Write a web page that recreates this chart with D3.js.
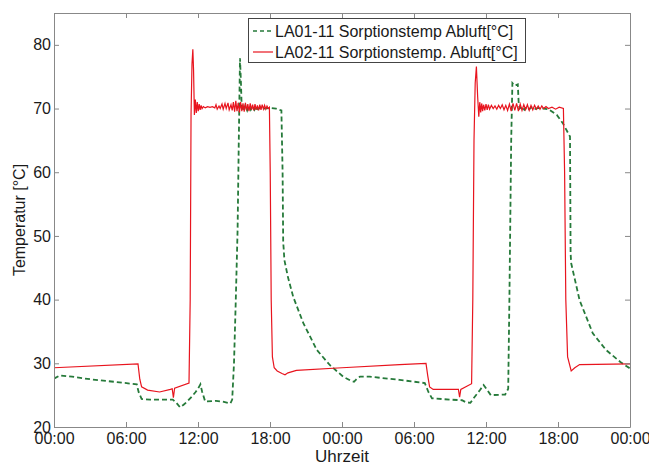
<!DOCTYPE html>
<html>
<head>
<meta charset="utf-8">
<script src="https://cdn.jsdelivr.net/npm/d3@7/dist/d3.min.js"></script>
<style>
  html, body { margin: 0; padding: 0; background: #fff; }
  svg { display: block; font-family: "Liberation Sans", Arial, sans-serif; }
</style>
</head>
<body>
<svg id="chart" width="649" height="466"></svg>
<script>
// ---- data (hours since start, temperature °C) ----
const xTickHours = [0, 6, 12, 18, 24, 30, 36, 42, 48];
const xTickLabels = ["00:00", "06:00", "12:00", "18:00", "00:00", "06:00", "12:00", "18:00", "00:00"];
const yTicks = [20, 30, 40, 50, 60, 70, 80];
const seriesNames = ["LA01-11 Sorptionstemp Abluft[°C]", "LA02-11 Sorptionstemp. Abluft[°C]"];

const la01 = [
  [0, 27.6], [0.5, 28.1], [1.5, 27.9], [3, 27.5], [5, 27.1], [6.9, 26.7], [7.05, 25.5], [7.3, 24.4],
  [8, 24.3], [9.9, 24.3], [10.2, 23.8], [10.5, 23.1], [10.8, 23.5], [11.05, 23.9], [11.5, 24.8],
  [11.8, 25.5], [12.0, 26.0], [12.2, 26.7], [12.35, 25.5], [12.6, 24.0], [13.5, 24.1], [14.0, 24.0],
  [14.7, 23.7], [14.85, 24.3], [15.0, 30], [15.15, 40], [15.3, 51], [15.4, 65], [15.5, 77.9],
  [15.58, 74], [15.64, 70.2], [15.8, 69.6], [15.95, 70.5], [16.1, 69.7], [16.25, 70.4], [16.4, 69.8],
  [16.55, 70.3], [16.7, 69.8], [16.85, 70.3], [17.0, 69.9], [17.2, 70.2], [17.5, 70.0], [18.0, 70.1],
  [18.5, 70.0], [18.95, 69.7], [19.05, 60], [19.1, 49], [19.14, 48], [19.2, 46.2], [19.5, 43.5],
  [19.94, 40.4], [20.78, 36.3], [21.9, 32.1], [23.0, 29.7], [24.1, 27.9], [24.8, 27.2], [25.0, 27.1],
  [25.3, 27.7], [25.5, 27.9], [26.3, 27.9], [28.8, 27.4], [30.9, 26.9], [31.2, 25.5], [31.5, 24.5],
  [33.0, 24.3], [34.0, 24.2], [34.3, 23.9], [34.7, 23.8], [35.0, 24.6], [35.5, 25.8], [35.8, 26.6],
  [36.1, 25.8], [36.4, 25.0], [37.6, 25.1], [37.85, 26], [37.95, 40], [38.1, 65], [38.2, 74.0],
  [38.4, 73.6], [38.65, 73.8], [38.72, 71], [38.8, 70.0], [39.0, 70.3], [39.2, 69.8], [39.4, 70.3],
  [39.6, 69.9], [39.8, 70.2], [40.0, 69.9], [40.4, 70.1], [40.8, 70.0], [41.2, 69.9], [41.9, 69.0],
  [42.4, 67.7], [43.0, 65.6], [43.03, 55], [43.05, 47.3], [43.1, 45.7], [43.8, 39.9], [44.9, 34.7],
  [46.0, 32.1], [47.2, 30.2], [48, 29.2]
];

const la02 = [
  [0, 29.3], [7.0, 29.9], [7.15, 27.5], [7.3, 26.3], [7.8, 25.8], [8.8, 25.5], [9.7, 25.9], [9.85, 26.0],
  [9.95, 24.6], [10.05, 26.1], [11.25, 26.9], [11.35, 40], [11.42, 69], [11.5, 77], [11.57, 79.3],
  [11.63, 76], [11.7, 69.0], [11.78, 71.4], [11.86, 69.3], [11.94, 71.0], [12.02, 69.6], [12.1, 70.7],
  [12.18, 69.8], [12.26, 70.5], [12.34, 70.0], [12.45, 70.3], [12.6, 70.1], [12.8, 70.3], [13.0, 70.2],
  [13.2, 70.3], [13.4, 70.1], [13.5, 70.6], [13.6, 69.9], [13.75, 70.4], [13.85, 70.0], [14.0, 70.7],
  [14.1, 69.9], [14.25, 70.8], [14.35, 70.0], [14.5, 70.9], [14.6, 69.8], [14.75, 70.6], [14.85, 69.7],
  [14.95, 71.0], [15.05, 69.5], [15.15, 71.2], [15.25, 69.6], [15.35, 70.9], [15.45, 69.4], [15.55, 71.0],
  [15.65, 69.6], [15.75, 70.8], [15.85, 69.5], [15.95, 70.9], [16.05, 69.7], [16.15, 70.7], [16.25, 69.6],
  [16.35, 70.8], [16.45, 69.8], [16.55, 70.6], [16.65, 69.7], [16.75, 70.7], [16.85, 69.8], [16.95, 70.5],
  [17.05, 69.7], [17.15, 70.6], [17.25, 69.8], [17.35, 70.6], [17.45, 69.9], [17.55, 70.5], [17.65, 69.9],
  [17.75, 70.4], [17.85, 70.0], [17.95, 70.2], [18.02, 60], [18.1, 40], [18.2, 31], [18.35, 29.3],
  [18.6, 28.8], [19.0, 28.4], [19.25, 28.2], [19.5, 28.5], [20.2, 28.9], [24, 29.3], [28.8, 29.8],
  [31.0, 30.0], [31.15, 28], [31.3, 26.3], [31.6, 25.9], [33.7, 25.9], [33.8, 24.7], [33.9, 25.9],
  [34.8, 26.8], [34.9, 40], [35.0, 65], [35.1, 74], [35.2, 76.6], [35.3, 72], [35.4, 68.7], [35.48, 71.0],
  [35.56, 69.4], [35.64, 70.8], [35.72, 69.6], [35.8, 70.6], [35.9, 69.7], [36.0, 70.7], [36.1, 69.8],
  [36.2, 70.6], [36.3, 69.9], [36.45, 70.5], [36.6, 70.0], [36.75, 70.4], [36.9, 69.9], [37.05, 70.5],
  [37.2, 70.0], [37.35, 70.6], [37.5, 69.8], [37.65, 70.5], [37.8, 69.7], [37.95, 70.7], [38.1, 69.6],
  [38.25, 70.8], [38.4, 69.7], [38.55, 70.8], [38.7, 69.6], [38.85, 70.7], [39.0, 69.7], [39.15, 70.6],
  [39.3, 69.8], [39.45, 70.6], [39.6, 69.7], [39.75, 70.5], [39.9, 69.8], [40.05, 70.5], [40.2, 69.9],
  [40.35, 70.4], [40.5, 69.9], [40.65, 70.4], [40.8, 70.0], [41.0, 70.3], [41.2, 70.0], [41.5, 70.2],
  [41.8, 69.9], [42.1, 70.2], [42.45, 70.0], [42.55, 60], [42.65, 40], [42.8, 31], [43.1, 28.8],
  [43.4, 29.3], [43.8, 29.8], [48, 29.9]
];

// ---- layout ----
const W = 649, H = 466;
const m = { left: 54, top: 13, right: 19, bottom: 39 };
const pw = W - m.left - m.right, ph = H - m.top - m.bottom;
const axisColor = "#888";
const textColor = "#1a1a1a";
const greenColor = "#267a3a";
const redColor = "#e8141e";

const svg = d3.select("#chart");
const g = svg.append("g").attr("transform", `translate(${m.left},${m.top})`);

const x = d3.scaleLinear().domain([0, 48]).range([0, pw]);
const y = d3.scaleLinear().domain([20, 85]).range([ph, 0]);

// clip
svg.append("defs").append("clipPath").attr("id", "clip")
  .append("rect").attr("width", pw).attr("height", ph);

// lines
const line = d3.line().x(d => x(d[0])).y(d => y(d[1]));
const lines = g.append("g").attr("clip-path", "url(#clip)");
lines.append("path").datum(la01)
  .attr("fill", "none").attr("stroke", greenColor).attr("stroke-width", 1.8)
  .attr("stroke-dasharray", "5,3").attr("d", line);
lines.append("path").datum(la02)
  .attr("fill", "none").attr("stroke", redColor).attr("stroke-width", 1.2)
  .attr("d", line);

// axes (ticks inside, mirrored)
const tickLen = 5;
const fmtX = (d, i) => xTickLabels[i];
const bottomAxis = d3.axisBottom(x).tickValues(xTickHours).tickFormat(fmtX).tickSizeInner(-tickLen).tickSizeOuter(0).tickPadding(6);
const topAxis = d3.axisTop(x).tickValues(xTickHours).tickFormat("").tickSizeInner(-tickLen).tickSizeOuter(0);
const leftAxis = d3.axisLeft(y).tickValues(yTicks).tickFormat(d3.format("d")).tickSizeInner(-tickLen).tickSizeOuter(0).tickPadding(3);
const rightAxis = d3.axisRight(y).tickValues(yTicks).tickFormat("").tickSizeInner(-tickLen).tickSizeOuter(0);

function style(sel) {
  sel.selectAll("path.domain").attr("stroke", axisColor).attr("stroke-width", 1);
  sel.selectAll(".tick line").attr("stroke", axisColor);
  sel.selectAll("text").attr("fill", textColor).style("font-size", "16px")
    .style("font-family", '"Liberation Sans", Arial, sans-serif');
}
g.append("g").attr("transform", `translate(0,${ph})`).call(bottomAxis).call(style);
g.append("g").call(topAxis).call(style);
g.append("g").call(leftAxis).call(style);
g.append("g").attr("transform", `translate(${pw},0)`).call(rightAxis).call(style);

// axis labels
svg.append("text").attr("x", m.left + pw / 2).attr("y", 462)
  .attr("text-anchor", "middle").attr("fill", textColor).style("font-size", "17px")
  .text("Uhrzeit");
svg.append("text").attr("transform", `translate(25,${m.top + ph / 2}) rotate(-90)`)
  .attr("text-anchor", "middle").attr("fill", textColor).style("font-size", "16px")
  .text("Temperatur [°C]");

// legend
const lg = svg.append("g");
lg.append("rect").attr("x", 248.5).attr("y", 18.5).attr("width", 277).attr("height", 44)
  .attr("fill", "#fff").attr("stroke", "#444").attr("stroke-width", 1);
const legendItems = [
  { name: seriesNames[0], color: greenColor, dash: "4,3", w: 1.5 },
  { name: seriesNames[1], color: redColor, dash: null, w: 1.2 }
];
legendItems.forEach((it, i) => {
  const cy = 31 + i * 21;
  lg.append("line").attr("x1", 253).attr("x2", 273).attr("y1", cy).attr("y2", cy)
    .attr("stroke", it.color).attr("stroke-width", it.w)
    .attr("stroke-dasharray", it.dash);
  lg.append("text").attr("x", 275).attr("y", cy + 6)
    .attr("fill", textColor).style("font-size", "16px").text(it.name);
});
</script>
</body>
</html>
